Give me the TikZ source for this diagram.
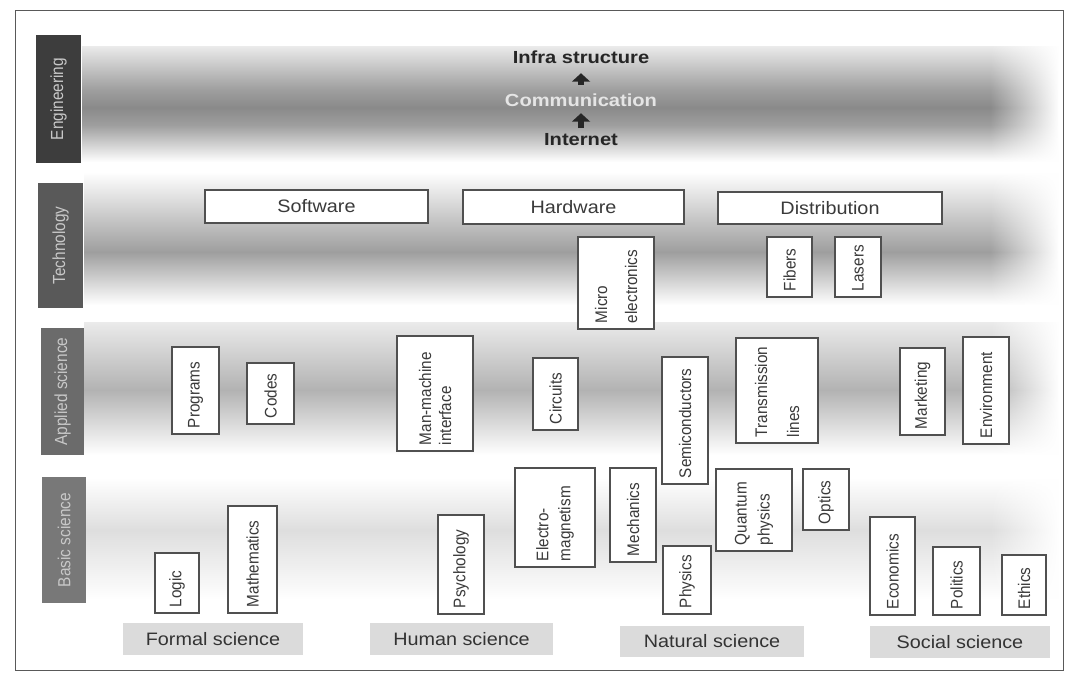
\documentclass[tikz,border=0pt]{standalone}
\usepackage{fontspec}
\setmainfont{Liberation Sans}
\newfontfamily\vfont[FakeStretch=0.91]{Liberation Sans}
\newfontfamily\hfont[FakeStretch=1.1]{Liberation Sans}
\newfontfamily\efont[FakeStretch=1.15]{Liberation Sans}
\newfontfamily\rfont[FakeStretch=0.88]{Liberation Sans}
\usetikzlibrary{arrows.meta,fadings}
\hyphenpenalty=10000
\exhyphenpenalty=10000
\definecolor{boxline}{HTML}{505050}
\definecolor{txt}{HTML}{3A3A3A}
\definecolor{engfill}{HTML}{3D3D3D}
\definecolor{techfill}{HTML}{595959}
\definecolor{applfill}{HTML}{6B6B6B}
\definecolor{basicfill}{HTML}{787878}
\definecolor{labtxt}{HTML}{C8C8C8}
\definecolor{cattxt}{HTML}{333333}
\definecolor{catfill}{HTML}{DBDBDB}
\tikzfading[name=fadeinR, left color=transparent!100, right color=transparent!0]
\tikzset{
  vbox/.style={draw=boxline, line width=1.2pt, fill=white, rotate=90,
    inner xsep=6pt, inner ysep=0pt, align=left, text=txt},
  hbox/.style={draw=boxline, line width=1.2pt, fill=white, inner sep=0pt,
    text=txt, font=\hfont\fontsize{18pt}{20pt}\selectfont},
  rowlab/.style={rotate=90, inner sep=0pt, text=labtxt,
    font=\rfont\fontsize{17.5pt}{20pt}\selectfont},
  catlab/.style={fill=catfill, inner sep=0pt, text=cattxt,
    font=\hfont\fontsize{18pt}{20pt}\selectfont},
  etext/.style={inner sep=0pt, font=\efont\bfseries\fontsize{17.5pt}{20pt}\selectfont},
  earrow/.style={draw=black!85, line width=6pt, -{Triangle[width=18pt,length=8.5pt]}}
}
\newcommand{\vb}[7]{%
  \pgfmathsetmacro{\vbx}{(#2+#4)/2}%
  \pgfmathsetmacro{\vby}{(#3+#5)/2}%
  \pgfmathsetmacro{\vbw}{#4-#2}%
  \pgfmathsetmacro{\vbh}{#5-#3-12}%
  \node[vbox, text width=\vbh pt, minimum height=\vbw pt,
    font={\vfont\fontsize{16.8pt}{#6pt}\selectfont}] (#1) at (\vbx,\vby) {#7};}
\begin{document}
\begin{tikzpicture}[x=1pt,y=-1pt]
\useasboundingbox (0,0) rectangle (1075,673);
\fill[white] (0,0) rectangle (1075,673);
% background bands
\shade[top color=black!8, bottom color=black!38] (82,46) rectangle (1058,90);
\shade[top color=black!38, bottom color=black!38, middle color=black!46] (82,90) rectangle (1058,125);
\shade[top color=black!38, bottom color=white] (82,125) rectangle (1058,162);
\shade[top color=white, bottom color=black!38] (84,172) rectangle (1058,252);
\shade[top color=black!38, bottom color=white] (84,252) rectangle (1058,305);
\shade[top color=black!8, bottom color=black!30] (84,322) rectangle (1058,390);
\shade[top color=black!30, bottom color=white] (84,390) rectangle (1058,455);
\shade[top color=white, bottom color=black!13] (86,478) rectangle (1058,530);
\shade[top color=black!13, bottom color=white] (86,530) rectangle (1058,600);
\fill[white, path fading=fadeinR] (990,40) rectangle (1059,610);
% frame
\draw[black!65, line width=1pt] (15,10) rectangle (1063,670);
% row labels
\node[rowlab, fill=engfill, minimum width=128pt, minimum height=45pt] (eng) at (58.5,99) {Engineering};
\node[rowlab, fill=techfill, minimum width=125pt, minimum height=45pt] (tech) at (60.5,245.5) {Technology};
\node[rowlab, fill=applfill, minimum width=127pt, minimum height=43pt] (appl) at (62.5,391.5) {Applied science};
\node[rowlab, fill=basicfill, minimum width=126pt, minimum height=44pt] (basic) at (64,540) {Basic science};
% engineering chain
\node[etext, text=black!85] (infra) at (581,57) {Infra structure};
\node[etext, text=black!10] (comm) at (581,100) {Communication};
\node[etext, text=black!85] (internet) at (581,140) {Internet};
\draw[earrow, shorten <=5.6pt, shorten >=6.6pt] (internet) -- (comm);
\draw[earrow, shorten <=8.6pt, shorten >=9.6pt] (comm) -- (infra);
% technology boxes
\node[hbox, minimum width=223pt, minimum height=33pt] (software) at (316.5,206.5) {Software};
\node[hbox, minimum width=221pt, minimum height=34pt] (hardware) at (573.5,207) {Hardware};
\node[hbox, minimum width=224pt, minimum height=32pt] (distribution) at (830,208) {Distribution};
\vb{micro}{578}{237}{654}{329}{30}{Micro\\electronics}
\vb{fibers}{767}{237}{812}{297}{20}{Fibers}
\vb{lasers}{835}{237}{881}{297}{20}{Lasers}
% applied science
\vb{programs}{172}{347}{219}{434}{20}{Programs}
\vb{codes}{247}{363}{294}{424}{20}{Codes}
\vb{mmi}{397}{336}{473}{451}{20}{Man-machine\\interface}
\vb{circuits}{533}{358}{578}{430}{20}{Circuits}
\vb{semi}{662}{357}{708}{484}{20}{Semiconductors}
\vb{trans}{736}{338}{818}{443}{32}{Transmission\\lines}
\vb{marketing}{900}{348}{945}{435}{20}{Marketing}
\vb{environment}{963}{337}{1009}{444}{20}{Environment}
% basic science
\vb{logic}{155}{553}{199}{613}{20}{Logic}
\vb{math}{228}{506}{277}{613}{20}{Mathematics}
\vb{psych}{438}{515}{484}{614}{20}{Psychology}
\vb{electro}{515}{468}{595}{567}{22}{Electro-\\magnetism}
\vb{mech}{610}{468}{656}{562}{20}{Mechanics}
\vb{physics}{663}{546}{711}{614}{20}{Physics}
\vb{quantum}{716}{469}{792}{551}{23}{Quantum\\physics}
\vb{optics}{803}{469}{849}{530}{20}{Optics}
\vb{econ}{870}{517}{915}{615}{20}{Economics}
\vb{politics}{933}{547}{980}{615}{20}{Politics}
\vb{ethics}{1002}{555}{1046}{615}{20}{Ethics}
% category labels
\node[catlab, minimum width=180pt, minimum height=32pt] (formal) at (213,639) {Formal science};
\node[catlab, minimum width=183pt, minimum height=32pt] (human) at (461.5,639) {Human science};
\node[catlab, minimum width=184pt, minimum height=31pt] (natural) at (712,641.5) {Natural science};
\node[catlab, minimum width=180pt, minimum height=32pt] (social) at (960,642) {Social science};
\end{tikzpicture}
\end{document}
